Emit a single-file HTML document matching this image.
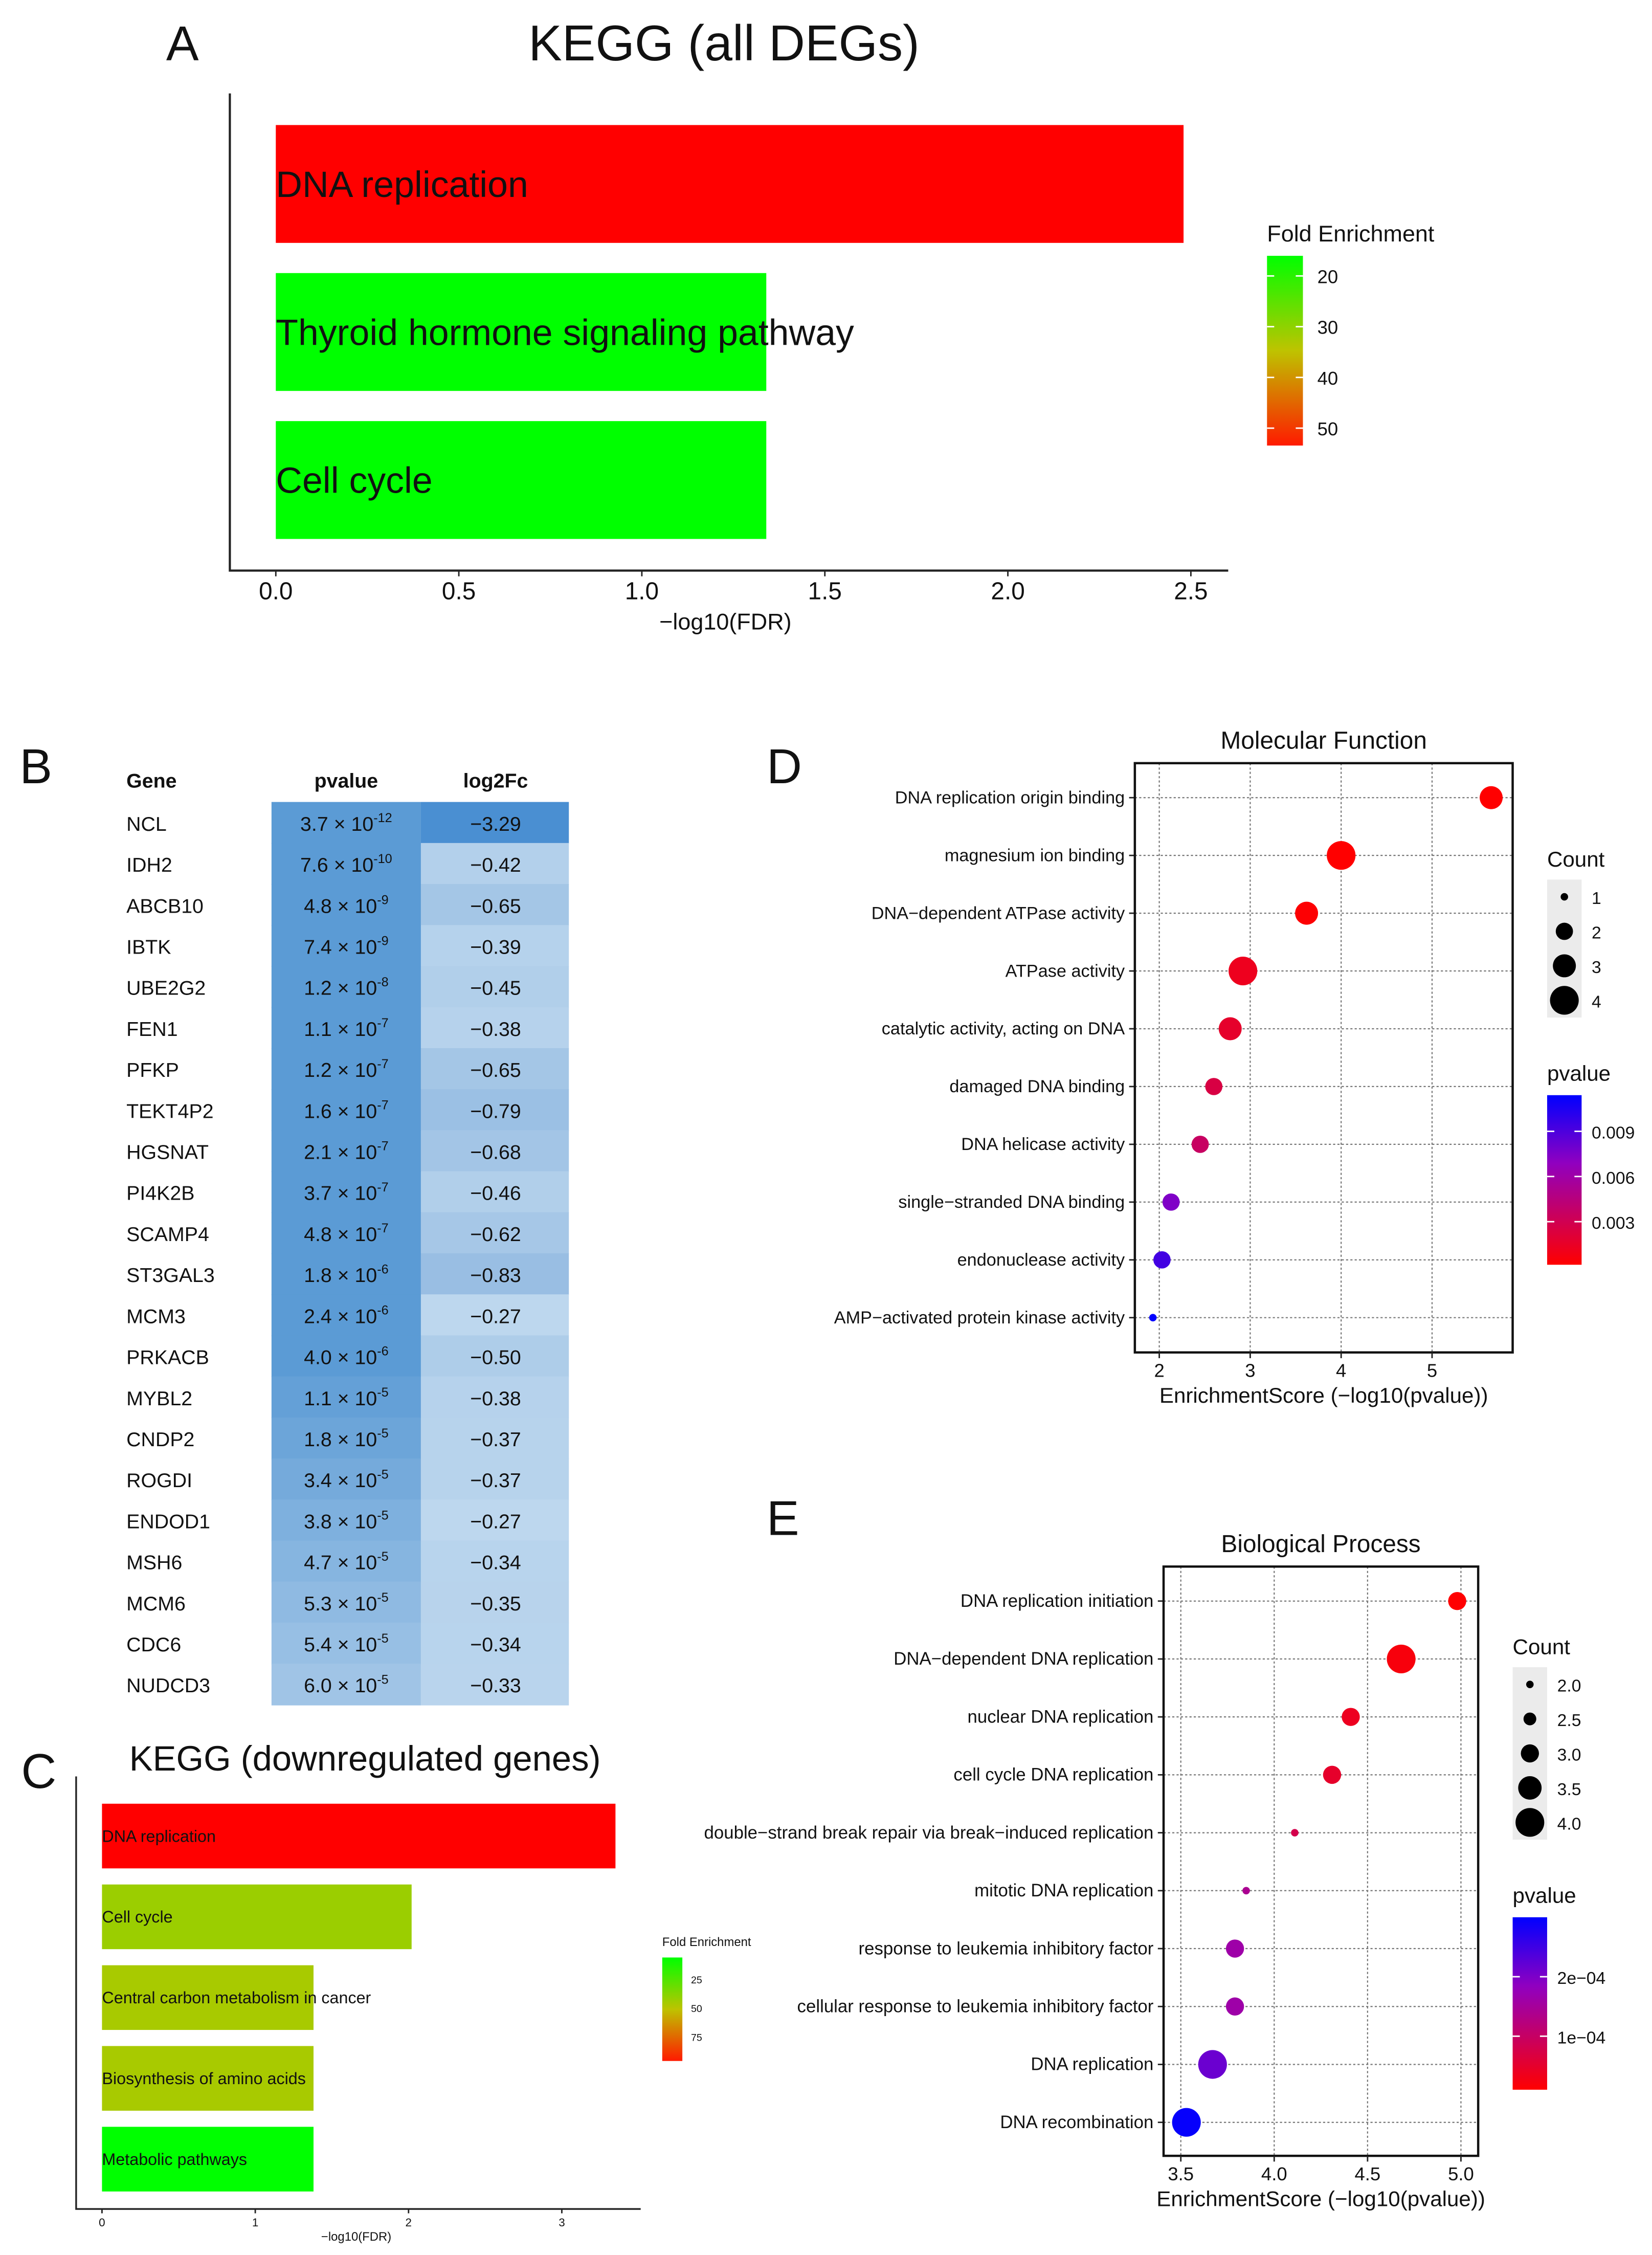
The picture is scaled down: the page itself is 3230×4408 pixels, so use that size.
<!DOCTYPE html>
<html><head><meta charset="utf-8"><style>
html,body{margin:0;padding:0;background:#fff}
svg{display:block}
text{font-family:"Liberation Sans",Arial,sans-serif;fill:#111}
</style></head><body>
<svg id="fig" width="3230" height="4408" viewBox="0 0 1150 1569" preserveAspectRatio="none" xmlns="http://www.w3.org/2000/svg">
<defs>
<linearGradient id="gA" x1="0" y1="0" x2="0" y2="1"><stop offset="0" stop-color="#00ff00"/><stop offset="0.5" stop-color="#bec300"/><stop offset="1" stop-color="#ff1a00"/></linearGradient>
<linearGradient id="gP" x1="0" y1="0" x2="0" y2="1"><stop offset="0" stop-color="#0000ff"/><stop offset="0.4" stop-color="#9000c0"/><stop offset="1" stop-color="#ff0000"/></linearGradient>
</defs>
<g id="panelA"></g>
<g id="panelB"></g>
<g id="panelC"></g>
<g id="panelD"></g>
<g id="panelE"></g>
</svg>
<script>
// ---- Panel A data
const aCats = ["DNA replication","Thyroid hormone signaling pathway","Cell cycle"];
const aVals = [2.48,1.34,1.34];
const aFold = [55,20,20];
const aTicks = [0,0.5,1.0,1.5,2.0,2.5];
const aLegend = [20,30,40,50];
// ---- Panel B data
const bGenes = ["NCL","IDH2","ABCB10","IBTK","UBE2G2","FEN1","PFKP","TEKT4P2","HGSNAT","PI4K2B","SCAMP4","ST3GAL3","MCM3","PRKACB","MYBL2","CNDP2","ROGDI","ENDOD1","MSH6","MCM6","CDC6","NUDCD3"];
const bPMant = ["3.7","7.6","4.8","7.4","1.2","1.1","1.2","1.6","2.1","3.7","4.8","1.8","2.4","4.0","1.1","1.8","3.4","3.8","4.7","5.3","5.4","6.0"];
const bPExp = [-12,-10,-9,-9,-8,-7,-7,-7,-7,-7,-7,-6,-6,-6,-5,-5,-5,-5,-5,-5,-5,-5];
const bFc = [-3.29,-0.42,-0.65,-0.39,-0.45,-0.38,-0.65,-0.79,-0.68,-0.46,-0.62,-0.83,-0.27,-0.50,-0.38,-0.37,-0.37,-0.27,-0.34,-0.35,-0.34,-0.33];
// ---- Panel C data
const cCats = ["DNA replication","Cell cycle","Central carbon metabolism in cancer","Biosynthesis of amino acids","Metabolic pathways"];
const cVals = [3.35,2.02,1.38,1.38,1.38];
const cFold = [95,43.5,46.5,46.5,8];
const cTicks = [0,1,2,3];
const cLegend = [25,50,75];
// ---- Panel D data
const dCats = ["DNA replication origin binding","magnesium ion binding","DNA\u2212dependent ATPase activity","ATPase activity","catalytic activity, acting on DNA","damaged DNA binding","DNA helicase activity","single\u2212stranded DNA binding","endonuclease activity","AMP\u2212activated protein kinase activity"];
const dScore = [5.65,4.0,3.62,2.92,2.78,2.6,2.45,2.13,2.03,1.93];
const dCount = [3,4,3,4,3,2,2,2,2,1];
const dTicks = [2,3,4,5];
const dCountLegend = [1,2,3,4];
const dPLegend = [0.009,0.006,0.003];
// ---- Panel E data
const eCats = ["DNA replication initiation","DNA\u2212dependent DNA replication","nuclear DNA replication","cell cycle DNA replication","double\u2212strand break repair via break\u2212induced replication","mitotic DNA replication","response to leukemia inhibitory factor","cellular response to leukemia inhibitory factor","DNA replication","DNA recombination"];
const eScore = [4.98,4.68,4.41,4.31,4.11,3.85,3.79,3.79,3.67,3.53];
const eCount = [3,4,3,3,2,2,3,3,4,4];
const eTicks = [3.5,4.0,4.5,5.0];
const eCountLegend = [2.0,2.5,3.0,3.5,4.0];
const ePLegend = [2e-4,1e-4];

const NS="http://www.w3.org/2000/svg";
function mk(parent,tag,attrs,txt){const e=document.createElementNS(NS,tag);for(const k in attrs)e.setAttribute(k,attrs[k]);if(txt!==undefined)e.textContent=txt;parent.appendChild(e);return e;}
function lerp(a,b,t){return Math.round(a+(b-a)*t);}
function mix(c1,c2,t){return `rgb(${lerp(c1[0],c2[0],t)},${lerp(c1[1],c2[1],t)},${lerp(c1[2],c2[2],t)})`;}
function foldColor(v,lo,hi){let t=Math.max(0,Math.min(1,(v-lo)/(hi-lo)));return t<0.5?mix([0,255,0],[190,195,0],t*2):mix([190,195,0],[255,0,0],(t-0.5)*2);}
function pColor(p,lo,hi){let t=Math.max(0,Math.min(1,(p-lo)/(hi-lo)));return t<0.6?mix([255,0,0],[144,0,192],t/0.6):mix([144,0,192],[0,0,255],(t-0.6)/0.4);}

// ===== Panel A
(function(){
const g=document.getElementById('panelA');
const x=v=>192+v*254.8; const y0=87,bh=82,step=103;
let t=mk(g,'text',{x:127,y:42,'font-size':34,'text-anchor':'middle'},'A');

t=mk(g,'text',{x:504,y:42,'font-size':35,'text-anchor':'middle'},'KEGG (all DEGs)');

aCats.forEach((c,i)=>{
  const r=mk(g,'rect',{x:x(0),y:y0+i*step,width:x(aVals[i])-x(0),height:bh,fill:foldColor(aFold[i],20,55)});
  
  
  const l=mk(g,'text',{x:192,y:y0+i*step+bh/2+9,'font-size':25.5},c);
  
  
});
let ax=mk(g,'path',{d:'M160 65V397H855',stroke:'#222','stroke-width':1.5,fill:'none'});

aTicks.forEach(v=>{
  mk(g,'line',{x1:x(v),x2:x(v),y1:397,y2:401,stroke:'#222'});
  const tl=mk(g,'text',{x:x(v),y:417,'font-size':17,'text-anchor':'middle',fill:'#333'},v.toFixed(1));
  
  
});
t=mk(g,'text',{x:505,y:438,'font-size':16,'text-anchor':'middle'},'\u2212log10(FDR)');

t=mk(g,'text',{x:882,y:168,'font-size':16},'Fold Enrichment');

const cb=mk(g,'rect',{x:882,y:178,width:25,height:132,fill:'url(#gA)'});

aLegend.forEach(v=>{const yy=192+(v-20)/10*35.3;
  mk(g,'line',{x1:882,x2:887,y1:yy,y2:yy,stroke:'#fff'});mk(g,'line',{x1:902,x2:907,y1:yy,y2:yy,stroke:'#fff'});
  const tl=mk(g,'text',{x:917,y:yy+5,'font-size':13},String(v));
  
  
});
})();

// ===== Panel B
(function(){
const g=document.getElementById('panelB');
let t=mk(g,'text',{x:25,y:545,'font-size':34,'text-anchor':'middle'},'B');

[['Gene',88,'start'],['pvalue',241,'middle'],['log2Fc',345,'middle']].forEach(h=>{
  const e=mk(g,'text',{x:h[1],y:548,'font-size':14,'font-weight':'bold','text-anchor':h[2]},h[0]);
  
  
});
const top=558,rh=28.55;
bGenes.forEach((gn,i)=>{
  const y=top+i*rh;
  const pe=bPExp[i];
  const r1=mk(g,'rect',{x:189,y:y,width:104,height:rh+0.5,fill:mix([91,155,213],[160,196,230],pe>=-5?Math.min(1,(i-13)/8):0)});
  
  
  const fc=bFc[i];
  const tf=Math.max(0,Math.min(1,(-fc-0.27)/(3.29-0.27)));
  const r2=mk(g,'rect',{x:293,y:y,width:103,height:rh+0.5,fill:tf>0.9?'rgb(74,143,210)':mix([189,215,238],[150,188,226],Math.min(1,tf*5))});
  
  
  const gl=mk(g,'text',{x:88,y:y+20,'font-size':14},gn);
  
  
  const pt=mk(g,'text',{x:241,y:y+20,'font-size':14,'text-anchor':'middle'});
  
  
  mk(pt,'tspan',{},bPMant[i]+' \u00d7 10');
  mk(pt,'tspan',{dy:-6,'font-size':9},String(pe));
  const ft=mk(g,'text',{x:345,y:y+20,'font-size':14,'text-anchor':'middle'},'\u2212'+Math.abs(fc).toFixed(2));
  
  
});
})();

// ===== Panel C
(function(){
const g=document.getElementById('panelC');
const x=v=>71+v*106.7; const y0=1255,bh=45,step=56.2;
let t=mk(g,'text',{x:27,y:1244,'font-size':34,'text-anchor':'middle'},'C');

t=mk(g,'text',{x:90,y:1232,'font-size':24.5},'KEGG (downregulated genes)');

cCats.forEach((c,i)=>{
  const r=mk(g,'rect',{x:x(0),y:y0+i*step,width:x(cVals[i])-x(0),height:bh,fill:foldColor(cFold[i],8,95)});
  
  
  const l=mk(g,'text',{x:71,y:y0+i*step+bh/2+4,'font-size':11.5},c);
  
  
});
let ax=mk(g,'path',{d:'M53 1236V1537H446',stroke:'#222','stroke-width':1.2,fill:'none'});

cTicks.forEach(v=>{
  mk(g,'line',{x1:x(v),x2:x(v),y1:1537,y2:1540,stroke:'#222'});
  const tl=mk(g,'text',{x:x(v),y:1549,'font-size':8,'text-anchor':'middle',fill:'#333'},String(v));
  
  
});
t=mk(g,'text',{x:248,y:1559,'font-size':8.5,'text-anchor':'middle'},'\u2212log10(FDR)');

t=mk(g,'text',{x:461,y:1354,'font-size':8.5},'Fold Enrichment');

const cb=mk(g,'rect',{x:461,y:1362,width:14,height:72,fill:'url(#gA)'});

cLegend.forEach(v=>{const yy=1362+15+(v-25)/25*20;
  const tl=mk(g,'text',{x:481,y:yy+3,'font-size':7},String(v));
  
  
});
})();

// ===== Dot plot helper
function dotPlot(opt){
const g=document.getElementById(opt.id);
const x=v=>opt.x0+(v-opt.v0)*opt.k;
const rowY=i=>opt.rt+i*opt.rs;
let t=mk(g,'text',{x:opt.lx,y:opt.ly,'font-size':34,'text-anchor':'middle'},opt.letter);

t=mk(g,'text',{x:(opt.bx1+opt.bx2)/2,y:opt.by1-10,'font-size':17,'text-anchor':'middle'},opt.title);

opt.ticks.forEach(v=>{mk(g,'line',{x1:x(v),x2:x(v),y1:opt.by1,y2:opt.by2,stroke:'#777','stroke-dasharray':'1.5,1.5','stroke-width':0.8});});
opt.cats.forEach((c,i)=>{
  mk(g,'line',{x1:opt.bx1,x2:opt.bx2,y1:rowY(i),y2:rowY(i),stroke:'#777','stroke-dasharray':'1.5,1.5','stroke-width':0.8});
  mk(g,'line',{x1:opt.bx1-4,x2:opt.bx1,y1:rowY(i),y2:rowY(i),stroke:'#222'});
  const l=mk(g,'text',{x:opt.bx1-7,y:rowY(i)+4,'font-size':opt.fs,'text-anchor':'end'},c);
  
  
});
const pv=opt.score.map(s=>Math.pow(10,-s));
opt.cats.forEach((c,i)=>{
  const d=mk(g,'circle',{cx:x(opt.score[i]),cy:rowY(i),r:opt.rad(opt.count[i]),fill:pColor(pv[i],opt.plo,opt.phi)});
  
  
});
const bx=mk(g,'rect',{x:opt.bx1,y:opt.by1,width:opt.bx2-opt.bx1,height:opt.by2-opt.by1,fill:'none',stroke:'#111','stroke-width':1.6});

opt.ticks.forEach(v=>{
  mk(g,'line',{x1:x(v),x2:x(v),y1:opt.by2,y2:opt.by2+4,stroke:'#222'});
  const tl=mk(g,'text',{x:x(v),y:opt.by2+17,'font-size':13,'text-anchor':'middle'},opt.tfmt(v));
  
  
});
t=mk(g,'text',{x:(opt.bx1+opt.bx2)/2,y:opt.by2+35,'font-size':15,'text-anchor':'middle'},'EnrichmentScore (\u2212log10(pvalue))');

t=mk(g,'text',{x:opt.lgx,y:opt.cty,'font-size':15},'Count');

mk(g,'rect',{x:opt.lgx,y:opt.cty+9,width:24,height:opt.cLeg.length*24,fill:'#ebebeb'});
opt.cLeg.forEach((v,i)=>{
  const yy=opt.cty+21+i*24;
  const k=mk(g,'circle',{cx:opt.lgx+12,cy:yy,r:opt.rad(v),fill:'#000'});
  
  
  const tl=mk(g,'text',{x:opt.lgx+31,y:yy+5,'font-size':12},opt.cfmt(v));
  
  
});
t=mk(g,'text',{x:opt.lgx,y:opt.pty,'font-size':15},'pvalue');

const cb=mk(g,'rect',{x:opt.lgx,y:opt.pty+10,width:24,height:opt.pbh,fill:'url(#gP)'});

opt.pLeg.forEach(v=>{
  const yy=opt.pty+10+opt.pbh*(1-(v-opt.plo)/(opt.phi-opt.plo));
  mk(g,'line',{x1:opt.lgx,x2:opt.lgx+5,y1:yy,y2:yy,stroke:'#fff'});mk(g,'line',{x1:opt.lgx+19,x2:opt.lgx+24,y1:yy,y2:yy,stroke:'#fff'});
  const tl=mk(g,'text',{x:opt.lgx+31,y:yy+5,'font-size':12},opt.pfmt(v));
  
  
});
}
dotPlot({id:'panelD',letter:'D',lx:546,ly:545,title:'Molecular Function',bx1:790,bx2:1053,by1:531,by2:941,x0:807,v0:2,k:63.3,rt:555,rs:40.2,fs:12.2,
 cats:dCats,score:dScore,count:dCount,ticks:dTicks,tfmt:v=>String(v),rad:c=>[0,2.6,6,8,10][c],
 plo:1.4e-4,phi:0.0114,lgx:1077,cty:603,cLeg:dCountLegend,cfmt:v=>String(v),pty:752,pbh:118,pLeg:dPLegend,pfmt:v=>v.toFixed(3)});
dotPlot({id:'panelE',letter:'E',lx:545,ly:1068,title:'Biological Process',bx1:810,bx2:1029,by1:1090,by2:1500,x0:822,v0:3.5,k:130,rt:1114,rs:40.3,fs:12.4,
 cats:eCats,score:eScore,count:eCount,ticks:eTicks,tfmt:v=>v.toFixed(1),rad:c=>2.6+(c-2)/2*7.4,
 plo:0.1e-4,phi:3.0e-4,lgx:1053,cty:1151,cLeg:eCountLegend,cfmt:v=>v.toFixed(1),pty:1324,pbh:120,pLeg:ePLegend,pfmt:v=>v.toExponential(0).replace('e-4','e\u221204')});
</script>
</body></html>
